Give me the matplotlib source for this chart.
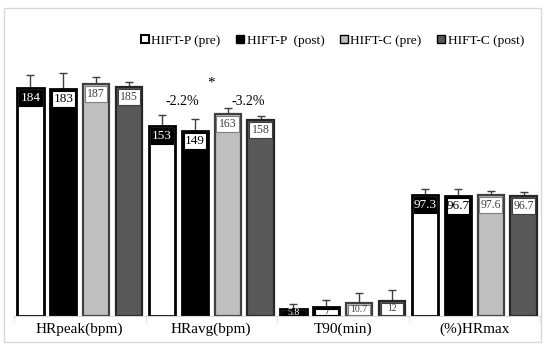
import matplotlib
matplotlib.use("Agg")
import matplotlib.pyplot as plt
from matplotlib.patches import Rectangle, Patch
import numpy as np

categories = ["HRpeak(bpm)", "HRavg(bpm)", "T90(min)", "(%)HRmax"]
series = ["HIFT-P (pre)", "HIFT-P  (post)", "HIFT-C (pre)", "HIFT-C (post)"]
p_pre = [184, 153, 5.8, 97.3]
p_post = [183, 149, 7, 96.7]
c_pre = [187, 163, 10.7, 97.6]
c_post = [185, 158, 12, 96.7]
p_pre_sd = [10, 9, 4, 5]
p_post_sd = [13, 10, 6, 6]
c_pre_sd = [6, 5, 8, 3.5]
c_post_sd = [3.5, 3, 9, 3]
labels = [["184", "153", "5.8", "97.3"], ["183", "149", "7", "96.7"],
          ["187", "163", "10.7", "97.6"], ["185", "158", "12", "96.7"]]
annotations = ["-2.2%", "*", "-3.2%"]

values = [p_pre, p_post, c_pre, c_post]
sds = [p_pre_sd, p_post_sd, c_pre_sd, c_post_sd]
fills = ["white", "black", "#bfbfbf", "#595959"]
edges = ["black", "black", "#404040", "#262626"]
box_bg = ["black", "white", "white", "white"]
box_fg = ["white", "black", "#404040", "#404040"]
box_ec = ["black", "black", "#7f7f7f", "#404040"]
fsizes = [9.5, 9.5, 8.5, 8.5]

plt.rcParams["font.family"] = ["Liberation Serif", "DejaVu Serif"]
W, H = 550, 348
fig = plt.figure(figsize=(W / 100, H / 100), dpi=100)
fig.patches.append(Rectangle((4 / W, 6 / H), 537 / W, 334 / H, transform=fig.transFigure,
                             fill=False, edgecolor="#d9d9d9", lw=1))
ax = fig.add_axes([14 / W, (H - 316) / H, 526 / W, 308 / H])
ymax = 308 / 1.24
ax.set_ylim(0, ymax)
ax.set_xlim(-0.5, 3.5)

x = np.arange(len(categories))
offsets = [-0.375, -0.125, 0.125, 0.375]
bw = 0.2
upp = ymax / 308  # units per pixel
for i in range(4):
    xs = x + offsets[i]
    ax.errorbar(xs, values[i], yerr=[np.zeros(4), sds[i]], fmt="none",
                ecolor="#404040", elinewidth=1, capsize=3, capthick=1, zorder=1)
    ax.bar(xs, values[i], width=bw, color=fills[i], edgecolor=edges[i],
           linewidth=2.0 if i < 2 else 1.6, zorder=2)
    for j in range(4):
        v = values[i][j]
        top = v - 2 * upp
        bot = max(v - 18 * upp, 1.5 * upp)
        inset = 0.014
        ax.add_patch(Rectangle((xs[j] - bw / 2 + inset, bot), bw - 2 * inset, top - bot,
                               facecolor=box_bg[i], edgecolor=box_ec[i], lw=0.8, zorder=3))
        fs = fsizes[i] if v > 30 else 7
        ax.text(xs[j], (top + bot) / 2, labels[i][j], ha="center", va="center",
                color=box_fg[i], fontsize=fs, zorder=4)

# annotations on HRavg group
ax.text(1 - 0.22, 173, annotations[0], ha="center", va="center", fontsize=10)
ax.text(1.0, 188, annotations[1], ha="center", va="center", fontsize=11)
ax.text(1 + 0.28, 173, annotations[2], ha="center", va="center", fontsize=10)

for s in ["top", "right", "left"]:
    ax.spines[s].set_visible(False)
ax.spines["bottom"].set_color("#d9d9d9")
ax.set_yticks([])
ax.set_xticks([-0.5, 0.5, 1.5, 2.5, 3.5], minor=True)
ax.tick_params(axis="x", which="minor", length=4, color="#d9d9d9")
ax.set_xticks(x)
ax.set_xticklabels(categories, fontsize=11)
ax.tick_params(axis="x", which="major", length=0, pad=5)

handles = [Patch(facecolor=fills[i], edgecolor="black", linewidth=1.5 if i == 0 else 1)
           for i in range(4)]
ax.legend(handles, series, ncol=4, loc="upper right", bbox_to_anchor=(1.0, 0.965),
          frameon=False, fontsize=9.6, handlelength=0.6, handleheight=0.6,
          handletextpad=0.2, columnspacing=1.15, borderaxespad=0.8)

fig.savefig("out.png", dpi=100)
